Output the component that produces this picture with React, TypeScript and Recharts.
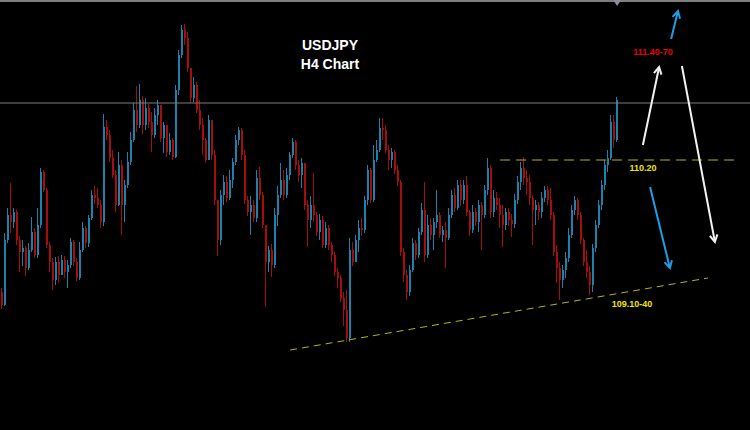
import React from 'react';
import { ComposedChart, Bar, XAxis, YAxis, ReferenceLine, ReferenceDot } from 'recharts';

// ---- USDJPY H4 candles (price) ----
const firstOpen = 108.88;
const closes = [
  108.75, 109.40, 109.65, 109.58, 109.68, 109.40, 109.28, 109.32, 109.12, 109.30,
  109.48, 109.25, 109.55, 110.08, 109.90, 109.35, 109.18, 109.00, 109.18, 109.05,
  109.20, 109.08, 109.15, 109.38, 109.18, 109.02, 109.30, 109.52, 109.37, 109.62,
  109.85, 109.82, 109.75, 109.58, 110.53, 110.45, 110.22, 110.05, 109.75, 110.15,
  109.75, 109.95, 110.18, 110.40, 110.70, 110.55, 110.80, 110.55, 110.72, 110.58,
  110.45, 110.65, 110.75, 110.42, 110.55, 110.28, 110.40, 110.23, 110.90, 111.25,
  111.50, 111.42, 111.12, 110.82, 110.95, 110.70, 110.55, 110.40, 110.20, 110.60,
  110.25, 109.80, 109.40, 109.85, 109.98, 109.82, 110.00, 110.18, 110.40, 110.50,
  110.25, 109.80, 109.68, 109.75, 109.62, 110.02, 109.85, 109.55, 109.18, 109.30,
  109.15, 109.65, 109.85, 110.00, 109.85, 110.05, 110.25, 110.38, 110.15, 110.05,
  110.17, 109.75, 109.60, 109.75, 109.65, 109.48, 109.60, 109.35, 109.52, 109.35,
  109.25, 109.08, 109.02, 108.82, 108.70, 108.42, 109.30, 109.18, 109.40, 109.52,
  109.50, 109.80, 110.10, 109.80, 110.20, 110.30, 110.52, 110.50, 110.30, 110.20,
  110.28, 110.10, 109.98, 109.28, 109.05, 108.88, 109.10, 109.37, 109.25, 109.48,
  109.70, 109.25, 109.55, 109.45, 109.58, 109.65, 109.45, 109.50, 109.42, 109.65,
  109.85, 109.72, 109.95, 109.80, 109.95, 109.68, 109.50, 109.68, 109.58, 109.75,
  109.65, 109.90, 110.12, 109.68, 109.82, 109.75, 109.65, 109.55, 109.68, 109.60,
  109.56, 109.80, 109.98, 110.12, 110.02, 109.98, 109.82, 109.70, 109.75, 109.68,
  109.82, 109.90, 109.80, 109.65, 109.28, 109.12, 109.00, 109.10, 109.22, 109.45,
  109.70, 109.80, 109.65, 109.40, 109.18, 109.08, 108.95, 109.32, 109.55, 109.75,
  109.95, 110.15, 110.22, 110.58, 110.40, 110.80,
];
const highs = [
  108.92, 109.47, 109.72, 109.97, 109.72, 109.70, 109.44, 109.40, 109.34, 109.37,
  109.63, 109.52, 109.72, 110.12, 110.10, 109.92, 109.38, 109.22, 109.23, 109.24,
  109.25, 109.24, 109.20, 109.42, 109.40, 109.22, 109.38, 109.58, 109.54, 109.65,
  109.90, 109.94, 109.92, 109.80, 110.66, 110.60, 110.50, 110.30, 110.10, 110.28,
  110.20, 110.00, 110.28, 110.48, 110.77, 110.94, 110.96, 110.84, 110.82, 110.76,
  110.68, 110.72, 110.80, 110.70, 110.58, 110.52, 110.47, 110.42, 110.95, 111.30,
  111.55, 111.56, 111.48, 111.12, 111.03, 110.98, 110.80, 110.62, 110.42, 110.65,
  110.55, 110.30, 109.80, 109.90, 110.05, 110.04, 110.10, 110.22, 110.45, 110.53,
  110.52, 110.30, 109.84, 109.84, 109.80, 110.10, 110.13, 109.88, 109.55, 109.34,
  109.36, 109.72, 109.94, 110.17, 110.10, 110.12, 110.28, 110.42, 110.40, 110.20,
  110.22, 110.15, 109.80, 109.84, 110.07, 109.68, 109.66, 109.64, 109.58, 109.55,
  109.38, 109.28, 109.12, 109.05, 108.88, 108.90, 109.42, 109.38, 109.45, 109.60,
  109.62, 109.84, 110.15, 110.12, 110.35, 110.40, 110.62, 110.62, 110.55, 110.35,
  110.32, 110.30, 110.15, 110.00, 109.32, 109.10, 109.15, 109.42, 109.40, 109.52,
  109.77, 109.98, 109.65, 109.62, 109.62, 109.90, 109.68, 109.54, 109.58, 109.72,
  109.90, 109.92, 110.00, 110.00, 110.00, 110.04, 109.70, 109.75, 109.72, 109.80,
  109.78, 109.95, 110.22, 110.15, 109.90, 109.88, 109.82, 109.75, 109.72, 109.72,
  109.66, 109.86, 110.04, 110.18, 110.23, 110.10, 110.05, 109.85, 109.80, 109.78,
  109.88, 109.94, 109.94, 109.92, 109.68, 109.35, 109.18, 109.15, 109.28, 109.52,
  109.75, 109.84, 109.82, 109.68, 109.42, 109.30, 109.14, 109.36, 109.60, 109.80,
  110.00, 110.20, 110.30, 110.65, 110.65, 110.83,
];
const lows = [
  108.71, 108.74, 109.37, 109.47, 109.52, 109.35, 109.08, 109.14, 109.04, 109.10,
  109.28, 109.22, 109.22, 109.52, 109.88, 109.32, 109.08, 108.90, 108.95, 108.97,
  109.12, 109.02, 108.92, 109.12, 109.14, 108.99, 109.00, 109.28, 109.32, 109.33,
  109.60, 109.76, 109.72, 109.52, 109.54, 110.40, 110.18, 110.02, 109.68, 109.74,
  109.45, 109.58, 109.92, 110.15, 110.38, 110.48, 110.52, 110.46, 110.50, 110.52,
  110.28, 110.42, 110.55, 110.38, 110.27, 110.23, 110.25, 110.20, 110.22, 110.85,
  111.22, 111.35, 111.08, 110.77, 110.78, 110.67, 110.50, 110.25, 110.17, 110.20,
  110.20, 109.75, 109.24, 109.35, 109.75, 109.78, 109.80, 109.92, 110.15, 110.35,
  110.20, 109.76, 109.64, 109.45, 109.58, 109.58, 109.80, 109.52, 108.73, 109.08,
  109.03, 109.12, 109.54, 109.82, 109.80, 109.82, 110.00, 110.22, 110.10, 109.98,
  109.92, 109.70, 109.33, 109.52, 109.58, 109.44, 109.40, 109.32, 109.32, 109.30,
  109.18, 109.04, 108.92, 108.78, 108.54, 108.38, 108.38, 109.14, 109.18, 109.28,
  109.44, 109.47, 109.75, 109.77, 109.78, 110.18, 110.28, 110.40, 110.27, 110.10,
  110.12, 110.06, 109.94, 109.24, 108.98, 108.80, 108.84, 109.08, 109.20, 109.22,
  109.45, 109.18, 109.22, 109.40, 109.30, 109.52, 109.42, 109.38, 109.12, 109.40,
  109.62, 109.68, 109.70, 109.74, 109.76, 109.64, 109.44, 109.47, 109.54, 109.48,
  109.30, 109.62, 109.85, 109.62, 109.63, 109.70, 109.52, 109.33, 109.50, 109.54,
  109.43, 109.52, 109.76, 109.90, 109.95, 109.85, 109.75, 109.35, 109.55, 109.60,
  109.62, 109.78, 109.75, 109.60, 109.24, 108.97, 108.80, 108.92, 109.02, 109.18,
  109.42, 109.65, 109.60, 109.36, 109.14, 109.02, 108.85, 108.88, 109.28, 109.52,
  109.70, 109.90, 110.08, 110.20, 110.32, 110.38,
];

// ---- annotations (bar-index units / price) ----
const currentPrice = 110.77;
const topBorderPrice = 111.79;
const resistanceLevel = 110.2;
const resistanceSpan = [166.7, 245.7];
const trendlinePoints = [
  { x: 96.7, y: 108.3 },
  { x: 236.0, y: 109.02 },
];
const arrowList = [
  { from: { x: 214.3, y: 110.35 }, to: { x: 219.7, y: 111.13 }, color: '#f2f2f2' },
  { from: { x: 223.7, y: 111.41 }, to: { x: 226.0, y: 111.69 }, color: '#1e9ee6' },
  { from: { x: 227.3, y: 111.14 }, to: { x: 238.3, y: 109.38 }, color: '#f2f2f2' },
  { from: { x: 216.7, y: 109.93 }, to: { x: 223.3, y: 109.12 }, color: '#1e9ee6' },
];
const labelTexts = ['111.40-70', '110.20', '109.10-40'];
const labelSpots = [
  { x: 217.7, y: 111.28, color: '#e60000' },
  { x: 214.3, y: 110.12, color: '#f0e600' },
  { x: 210.7, y: 108.76, color: '#f0e600' },
];
const titleLines = ['USDJPY', 'H4 Chart'];
const titleSpots = [
  { x: 110, y: 111.35 },
  { x: 110, y: 111.16 },
];
const markerSpot = { x: 205.7, y: 111.77 };

const UP = '#1a82ab';
const DOWN = '#a80d0d';
const FONT = '"Liberation Sans", Arial, sans-serif';

const data = closes.map((c, i) => {
  const o = i === 0 ? firstOpen : closes[i - 1];
  const hi = Math.max(highs[i], o, c);
  const lo = Math.min(lows[i], o, c);
  return { t: i + 0.5, o, c, hi, lo, range: [lo, hi] };
});

const Candle = (props: any) => {
  const { x, y, width, height, payload } = props;
  if (x == null || y == null) return null;
  const { o, c, hi, lo } = payload;
  const top = Math.min(y, y + height);
  const h = Math.abs(height);
  const span = hi - lo || 1e-6;
  const py = (p: number) => top + ((hi - p) / span) * h;
  const color = c >= o ? UP : DOWN;
  const cx = Math.round(x + width / 2) + 0.5;
  const bTop = py(Math.max(o, c));
  const bBot = py(Math.min(o, c));
  return (
    <g shapeRendering="crispEdges">
      <line x1={cx} x2={cx} y1={top} y2={top + h} stroke={color} strokeWidth={1} />
      <rect x={cx - 1} y={bTop} width={2} height={Math.max(1, bBot - bTop)} fill={color} />
    </g>
  );
};

const makeArrow = (color: string) => (p: any) => {
  const { x1, y1, x2, y2 } = p;
  const ang = Math.atan2(y2 - y1, x2 - x1);
  const len = 8;
  const spread = 0.5;
  const ax = x2 - len * Math.cos(ang - spread);
  const ay = y2 - len * Math.sin(ang - spread);
  const bx = x2 - len * Math.cos(ang + spread);
  const by = y2 - len * Math.sin(ang + spread);
  return (
    <g>
      <line x1={x1} y1={y1} x2={x2} y2={y2} stroke={color} strokeWidth={2} />
      <polyline points={`${ax},${ay} ${x2},${y2} ${bx},${by}`} fill="none" stroke={color} strokeWidth={2} />
    </g>
  );
};

const Marker = (p: any) => {
  const { cx, cy } = p;
  return <polygon points={`${cx - 4},${cy - 3} ${cx + 4},${cy - 3} ${cx},${cy + 3}`} fill="#8a8f99" />;
};

export default function App() {
  return (
    <div style={{ position: 'absolute', left: 0, top: 0, width: 750, height: 430, background: '#000' }}>
      <ComposedChart width={750} height={430} data={data} margin={{ top: 0, right: 0, bottom: 0, left: 0 }}>
        <XAxis dataKey="t" type="number" domain={[0, 250]} hide />
        <YAxis type="number" domain={[107.5, 111.8]} hide allowDataOverflow />
        <ReferenceLine y={topBorderPrice} stroke="#a9a9a9" strokeWidth={1.5} />
        <ReferenceLine y={currentPrice} stroke="#7d7d7d" strokeWidth={1} />
        <Bar dataKey="range" barSize={2} shape={Candle} isAnimationActive={false} />
        <ReferenceLine
          segment={[
            { x: resistanceSpan[0], y: resistanceLevel },
            { x: resistanceSpan[1], y: resistanceLevel },
          ]}
          stroke="#b3b320"
          strokeWidth={1}
          strokeDasharray="10 6"
        />
        <ReferenceLine segment={trendlinePoints} stroke="#b3b320" strokeWidth={1} strokeDasharray="7 5" />
        {arrowList.map((a, i) => (
          <ReferenceLine key={'a' + i} segment={[a.from, a.to]} shape={makeArrow(a.color)} />
        ))}
        {labelTexts.map((t, i) => (
          <ReferenceDot
            key={'l' + i}
            x={labelSpots[i].x}
            y={labelSpots[i].y}
            r={0}
            fill="none"
            stroke="none"
            label={{ value: t, position: 'center', fill: labelSpots[i].color, fontSize: 9, fontWeight: 700, fontFamily: FONT }}
          />
        ))}
        {titleLines.map((t, i) => (
          <ReferenceDot
            key={'t' + i}
            x={titleSpots[i].x}
            y={titleSpots[i].y}
            r={0}
            fill="none"
            stroke="none"
            label={{ value: t, position: 'center', fill: '#ffffff', fontSize: 14, fontWeight: 700, fontFamily: FONT }}
          />
        ))}
        <ReferenceDot x={markerSpot.x} y={markerSpot.y} r={3} shape={Marker} />
      </ComposedChart>
    </div>
  );
}
